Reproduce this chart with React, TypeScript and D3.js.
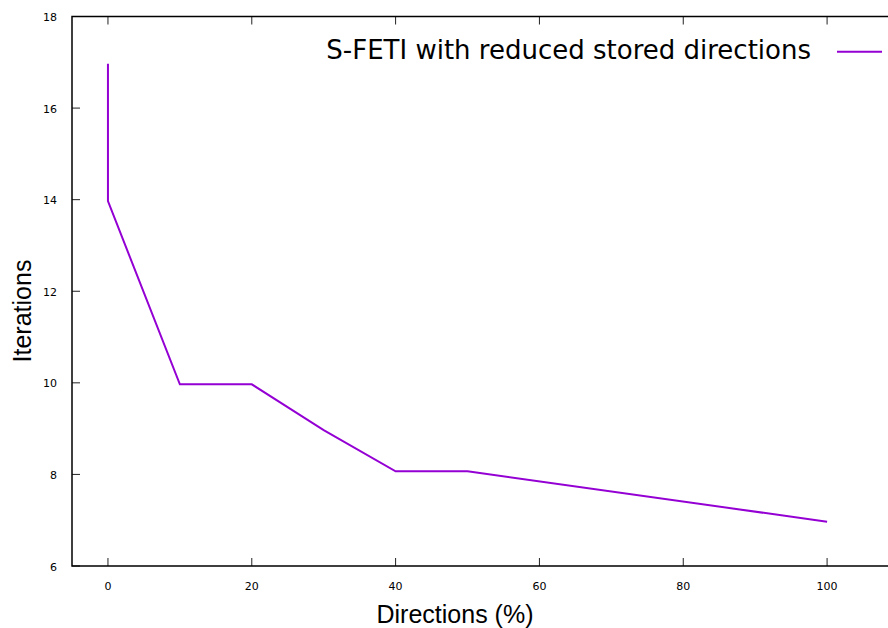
import * as d3 from "d3";
import React from "react";

// directions (%) vs iterations
const directions = [0, 0, 10, 20, 30, 40, 50, 100];
const iterations = [17, 14, 10, 10, 9, 8.1, 8.1, 7];
const xTicks = [0, 20, 40, 60, 80, 100];
const yTicks = [6, 8, 10, 12, 14, 16, 18];
const seriesName = "S-FETI with reduced stored directions";

const W = 888;
const H = 628;
const left = 72;
const right = 899;
const top = 16.5;
const bottom = 566;
const tickLen = 8;

const App: React.FC = () => {
  const x = d3.scaleLinear().domain([-5, 110]).range([left, right]);
  const y = d3.scaleLinear().domain([6, 18]).range([bottom, top]);

  const line = d3
    .line<number>()
    .x((_, i) => x(directions[i]))
    .y((d) => y(d));

  const tickFont = "DejaVu Sans, sans-serif";

  return (
    <svg
      width={W}
      height={H}
      style={{ position: "absolute", left: 0, top: 0, display: "block", background: "#fff" }}
    >
      {/* x ticks, bottom and top */}
      {xTicks.map((t) => (
        <g key={"x" + t}>
          <line x1={x(t)} x2={x(t)} y1={bottom} y2={bottom - tickLen} stroke="#222" strokeWidth={1} />
          <line x1={x(t)} x2={x(t)} y1={top} y2={top + tickLen} stroke="#222" strokeWidth={1} />
          <text
            x={x(t)}
            y={589.5}
            textAnchor="middle"
            fontFamily={tickFont}
            fontSize={11}
            fill="#000"
          >
            {t}
          </text>
        </g>
      ))}
      {/* y ticks */}
      {yTicks.map((t) => (
        <g key={"y" + t}>
          <line x1={left} x2={left + tickLen} y1={y(t)} y2={y(t)} stroke="#222" strokeWidth={1} />
          <text
            x={57}
            y={y(t) + 4.5}
            textAnchor="end"
            fontFamily={tickFont}
            fontSize={11}
            fill="#000"
          >
            {t}
          </text>
        </g>
      ))}
      {/* border */}
      <path
        d={`M${right},${top}H${left}V${bottom}H${right}`}
        fill="none"
        stroke="#000"
        strokeWidth={1.5}
      />
      {/* data line */}
      <path
        d={line(iterations) || ""}
        fill="none"
        stroke="#9400d3"
        strokeWidth={2}
        strokeLinejoin="miter"
        transform="translate(0,1.5)"
      />
      {/* legend */}
      <text
        x={811}
        y={59}
        textAnchor="end"
        fontFamily={tickFont}
        fontSize={26}
        fill="#000"
      >
        {seriesName}
      </text>
      <line x1={837} x2={882} y1={51.7} y2={51.7} stroke="#9400d3" strokeWidth={2} />
      {/* axis labels */}
      <text
        x={455}
        y={623}
        textAnchor="middle"
        fontFamily="Liberation Sans, Arial, sans-serif"
        fontSize={25}
        fill="#000"
      >
        Directions (%)
      </text>
      <text
        transform="translate(31,311) rotate(-90)"
        textAnchor="middle"
        fontFamily="Liberation Sans, Arial, sans-serif"
        fontSize={25}
        fill="#000"
      >
        Iterations
      </text>
    </svg>
  );
};

export default App;
